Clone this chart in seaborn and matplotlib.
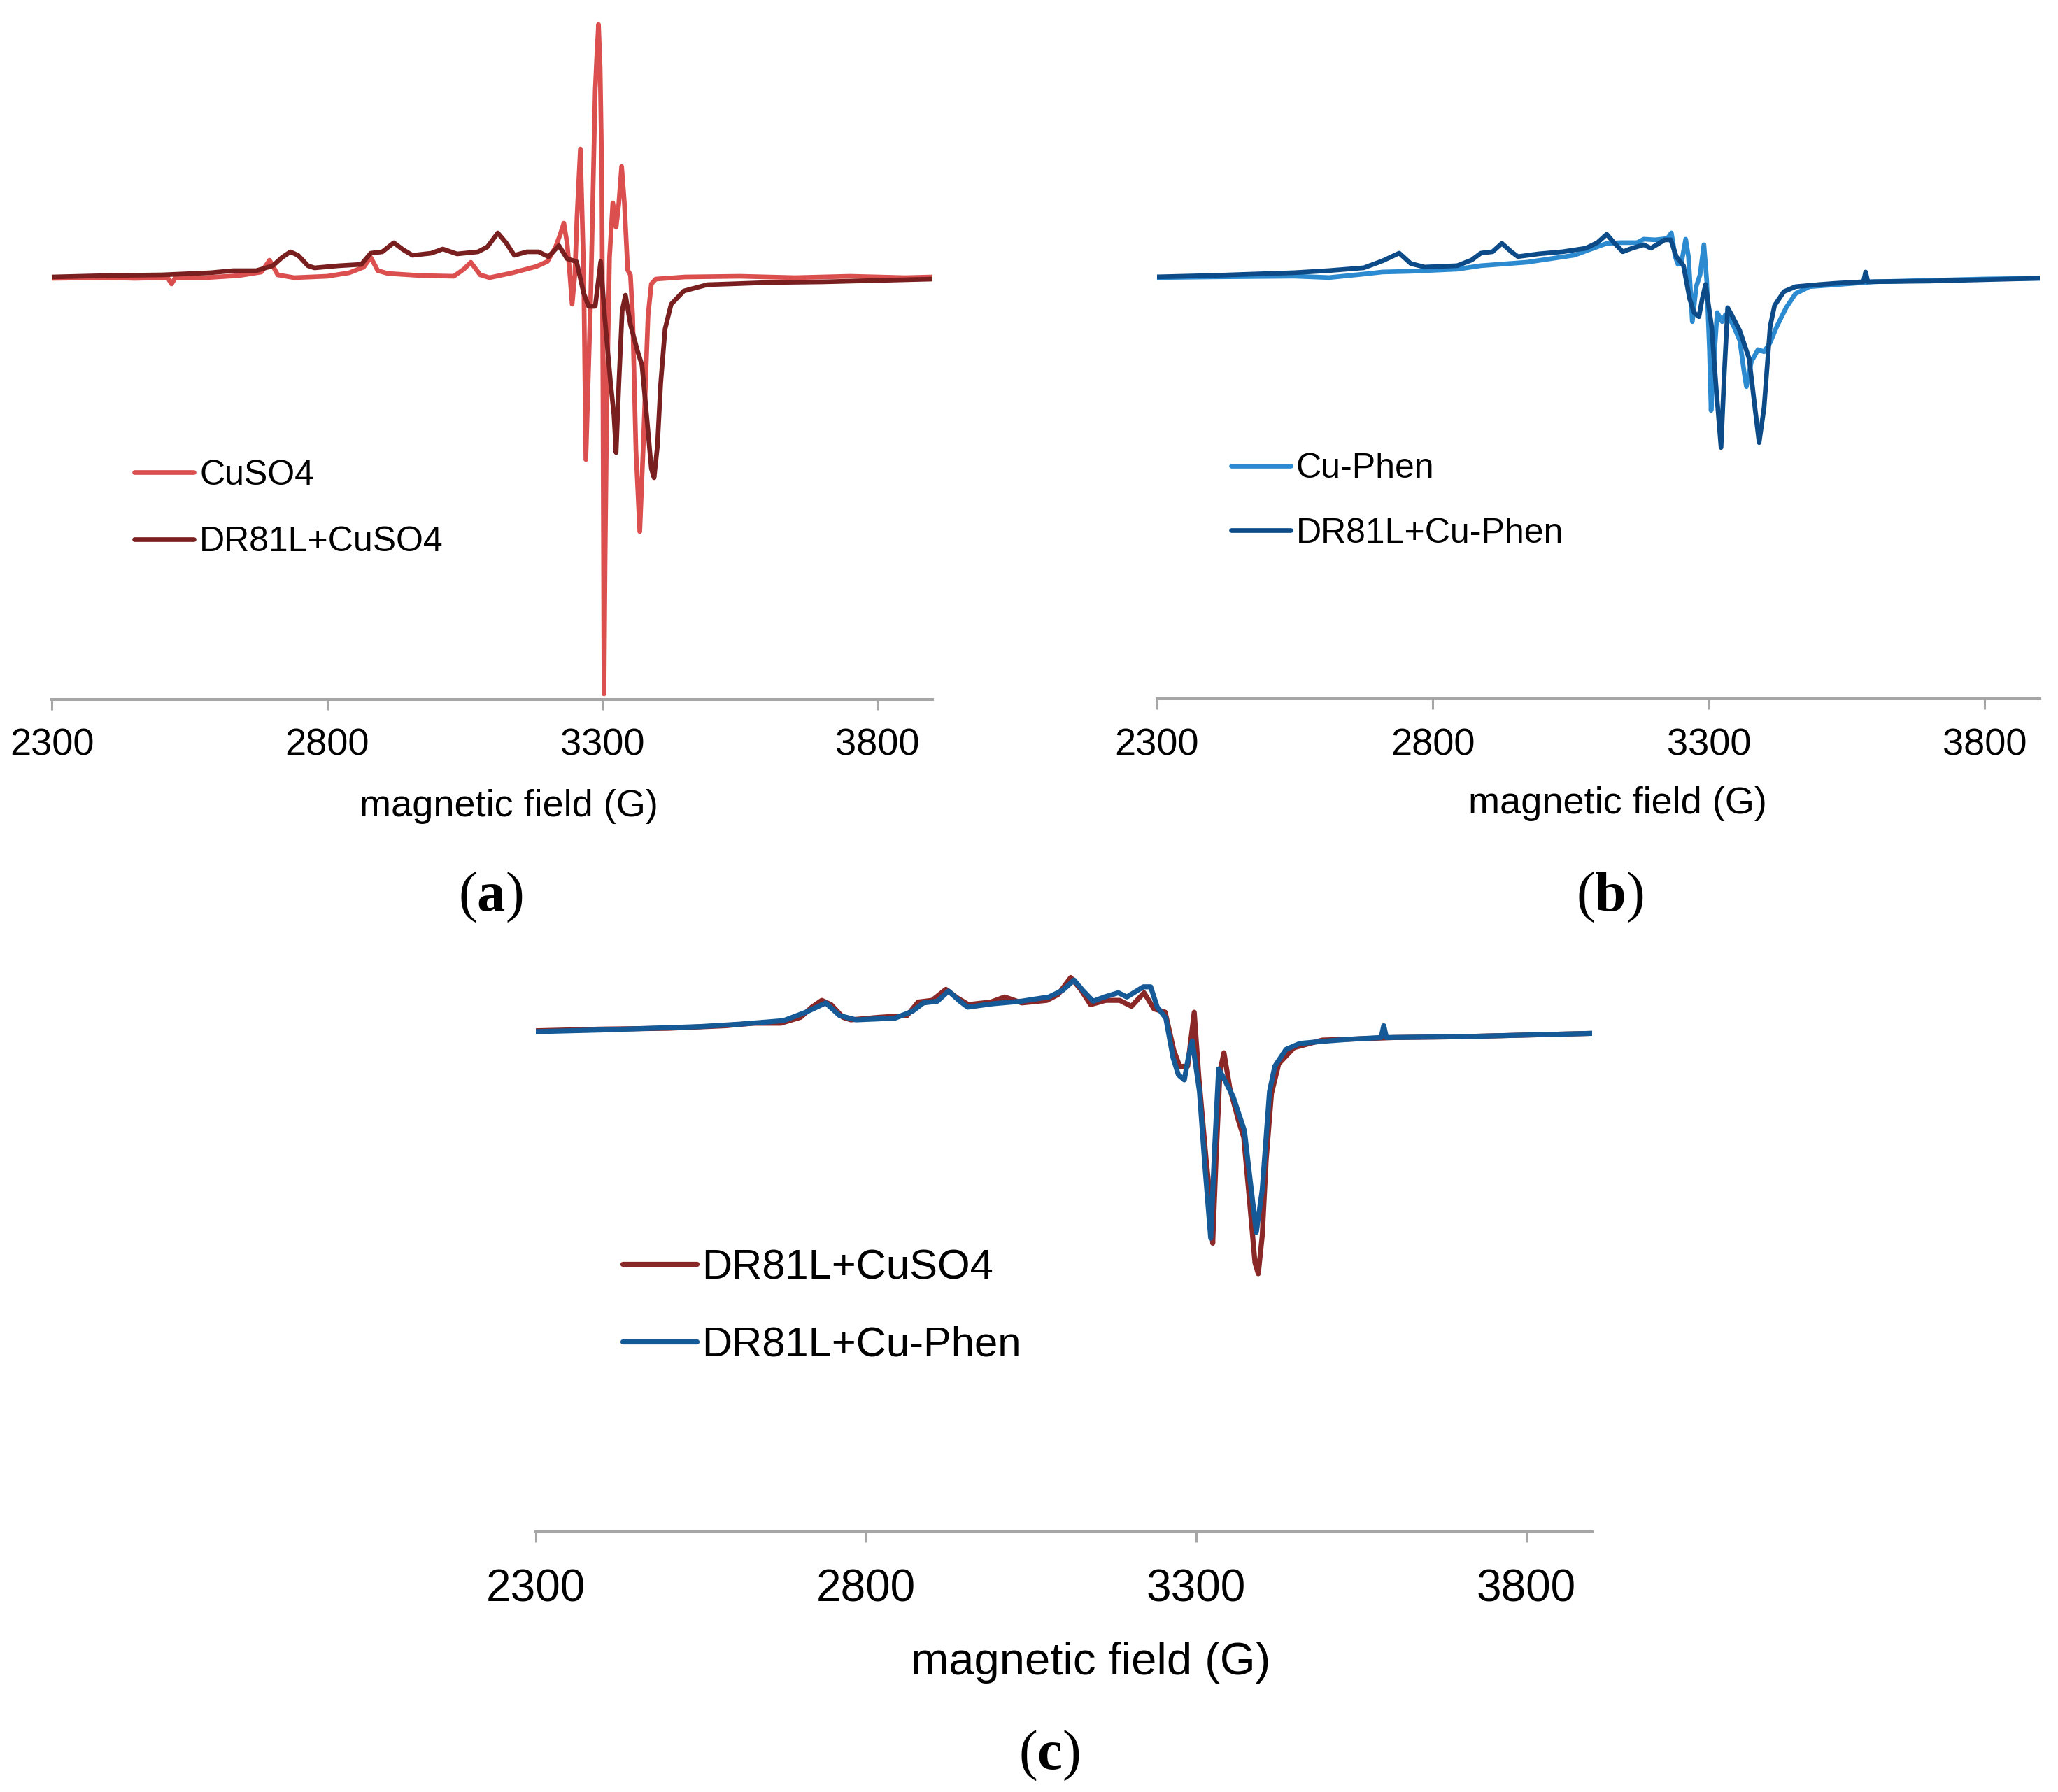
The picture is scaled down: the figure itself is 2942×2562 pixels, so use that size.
import numpy as np
import pandas as pd
import matplotlib
matplotlib.use("Agg")
import matplotlib.pyplot as plt
import seaborn as sns

# EPR spectra (field in G, intensity in arbitrary units)
cuso4_field = [2300, 2400, 2450, 2510, 2517, 2524, 2580, 2640, 2680, 2690, 2695, 2701, 2710, 2740,
               2800, 2840, 2866, 2879, 2892, 2910, 2970, 3030, 3048, 3061, 3078, 3095, 3137, 3180,
               3200, 3215, 3223, 3230, 3236, 3241, 3245, 3250, 3254, 3260, 3266, 3270, 3279, 3287,
               3290, 3293, 3296, 3299, 3301, 3303, 3305, 3308, 3313, 3319, 3325, 3330, 3335, 3340,
               3346, 3351, 3355, 3361, 3368, 3374, 3383, 3389, 3397, 3450, 3550, 3650, 3750, 3850, 3900]
cuso4_signal = [0, 1, 0, 1, -8, 1, 1, 4, 9, 20, 26, 18, 5, 1,
                3, 8, 16, 30, 11, 7, 4, 3, 13, 23, 5, 1, 8, 17,
                24, 45, 62, 79, 50, 5, -37, 5, 90, 185, 11, -259, -21, 269,
                320, 363, 300, 150, -150, -594, -400, -182, 30, 108, 73, 108, 160, 108,
                12, 5, -53, -246, -362, -246, -53, -8, -1, 2, 3, 1, 3, 1, 2]

dr_cuso4_field = [2300, 2400, 2500, 2587, 2629, 2671, 2701, 2718, 2733, 2747, 2765, 2777, 2820, 2862,
                  2879, 2900, 2921, 2938, 2955, 2989, 3010, 3036, 3074, 3091, 3110, 3125, 3140, 3163,
                  3184, 3202, 3221, 3236, 3253, 3266, 3275, 3287, 3297, 3304, 3315, 3321, 3325, 3330,
                  3336, 3342, 3351, 3364, 3372, 3381, 3389, 3394, 3400, 3406, 3414, 3425, 3448, 3491,
                  3530, 3600, 3700, 3800, 3900]
dr_cuso4_signal = [2, 4, 5, 8, 11, 11, 18, 30, 38, 33, 18, 15, 18, 20,
                   36, 38, 51, 41, 33, 36, 42, 35, 38, 45, 65, 51, 33, 38,
                   38, 31, 47, 28, 24, -21, -40, -40, 24, -53, -150, -195, -249, -150,
                   -46, -24, -66, -104, -124, -201, -272, -285, -240, -150, -72, -37, -18, -9,
                   -8, -6, -5, -3, -1]

cuphen_field = [2300, 2400, 2549, 2612, 2675, 2709, 2760, 2844, 2887, 2971, 3056, 3115, 3140, 3170,
                3182, 3203, 3225, 3232, 3239, 3244, 3250, 3258, 3263, 3270, 3277, 3284, 3291, 3296,
                3301, 3304, 3309, 3315, 3324, 3330, 3343, 3356, 3364, 3368, 3377, 3389, 3400, 3411,
                3423, 3440, 3457, 3482, 3533, 3600, 3700, 3800, 3900]
cuphen_signal = [0, 1, 2, 0, 5, 8, 9, 12, 17, 22, 32, 49, 50, 50,
                 55, 54, 56, 64, 30, 19, 20, 55, 30, -63, -13, 4, 47, -3,
                 -103, -190, -120, -50, -63, -53, -66, -90, -136, -156, -120, -103, -106, -93,
                 -70, -43, -23, -13, -10, -6, -4, -2, -1]

dr_cuphen_field = [2300, 2400, 2549, 2612, 2675, 2709, 2739, 2760, 2785, 2844, 2870, 2887, 2908, 2925,
                   2942, 2954, 2992, 3035, 3077, 3098, 3115, 3128, 3144, 3161, 3182, 3195, 3220, 3231,
                   3241, 3254, 3265, 3273, 3282, 3288, 3294, 3305, 3313, 3322, 3328, 3334, 3341, 3356,
                   3373, 3381, 3391, 3400, 3411, 3419, 3436, 3457, 3499, 3533, 3580, 3584, 3588, 3700,
                   3800, 3900]
dr_cuphen_signal = [1, 3, 7, 10, 14, 24, 35, 20, 15, 17, 25, 35, 37, 49,
                    37, 30, 34, 37, 42, 50, 62, 50, 37, 42, 47, 42, 54, 54,
                    30, 17, -30, -50, -56, -30, -10, -70, -156, -243, -136, -43, -53, -76,
                    -116, -170, -236, -186, -70, -40, -20, -13, -10, -8, -6, 8, -6, -5,
                    -3, -1]

field_ticks = [2300, 2800, 3300, 3800]

c_cuso4 = "#DC4F4F"
c_dr_cuso4_a = "#7A1F1F"
c_dr_cuso4_c = "#8A2828"
c_cuphen = "#2C8AD0"
c_dr_cuphen_b = "#0C4B87"
c_dr_cuphen_c = "#155A96"

sns.set_style("ticks")
plt.rcParams['font.family'] = ['Liberation Sans', 'DejaVu Sans']
plt.rcParams['text.color'] = 'black'
plt.rcParams['mathtext.fontset'] = 'custom'
plt.rcParams['mathtext.bf'] = 'Liberation Serif:bold'
plt.rcParams['mathtext.rm'] = 'Liberation Serif'

fig = plt.figure(figsize=(29.42, 25.62), dpi=100)
ax_a = fig.add_axes([0.02532, 0.60968, 0.4278, 0.39032])
ax_b = fig.add_axes([0.56217, 0.6102, 0.4291, 0.3898])
ax_c = fig.add_axes([0.26037, 0.1452, 0.5134, 0.32397])


def draw(ax, series, ylim, tick_fs, lab_fs, tick_pad, lab_y, lab_x, lw):
    for fld, sig, col, lab in series:
        df = pd.DataFrame({"field": fld, "signal": sig})
        sns.lineplot(data=df, x="field", y="signal", color=col, linewidth=lw, label=lab,
                     estimator=None, sort=False, ax=ax)
    ax.set_xlim(2300, 3900)
    ax.set_ylim(*ylim)
    ax.set_xticks(field_ticks)
    ax.set_yticks([])
    ax.set_ylabel("")
    sns.despine(ax=ax, left=True, top=True, right=True)
    ax.spines["bottom"].set_color("#A6A6A6")
    ax.spines["bottom"].set_linewidth(2.9)
    ax.tick_params(axis="x", bottom=True, direction="out", length=10.8, width=2.2, color="#A6A6A6",
                   labelsize=tick_fs, pad=tick_pad, labelcolor="black")
    ax.set_xlabel("magnetic field (G)", fontsize=lab_fs, color="black")
    ax.xaxis.set_label_coords(lab_x, lab_y)
    ax.patch.set_alpha(0)


draw(ax_a, [(cuso4_field, cuso4_signal, c_cuso4, "CuSO4"),
            (dr_cuso4_field, dr_cuso4_signal, c_dr_cuso4_a, "DR81L+CuSO4")],
     (-602, 398), 39, 39, 18.5, -0.1285, 0.519, 4.8)
draw(ax_b, [(cuphen_field, cuphen_signal, c_cuphen, "Cu-Phen"),
            (dr_cuphen_field, dr_cuphen_signal, c_dr_cuphen_b, "DR81L+Cu-Phen")],
     (-602, 397), 39, 39, 19.5, -0.126, 0.5215, 4.8)
draw(ax_c, [(dr_cuso4_field, dr_cuso4_signal, c_dr_cuso4_c, "DR81L+CuSO4"),
            (dr_cuphen_field, dr_cuphen_signal, c_dr_cuphen_c, "DR81L+Cu-Phen")],
     (-590, 96), 46, 47, 27, -0.189, 0.525, 5.2)

ax_a.legend(loc="center left", bbox_to_anchor=(0.0934, 0.2725), frameon=False, fontsize=36,
            borderpad=0, borderaxespad=0, handlelength=1.7, handletextpad=0.16, labelspacing=0.99)
ax_b.legend(loc="center left", bbox_to_anchor=(0.084, 0.2823), frameon=False, fontsize=36,
            borderpad=0, borderaxespad=0, handlelength=1.7, handletextpad=0.16, labelspacing=0.93)
ax_c.legend(loc="center left", bbox_to_anchor=(0.0821, 0.388), frameon=False, fontsize=43,
            borderpad=0, borderaxespad=0, handlelength=1.78, handletextpad=0.12, labelspacing=0.93)

for x, y, t in [(0.2383, 0.4992, "a"), (0.7821, 0.4992, "b"), (0.5099, 0.0203, "c")]:
    fig.text(x, y, "(" + r"$\mathbf{" + t + "}$" + ")", ha="center", va="center", fontsize=58,
             family="Liberation Serif")

fig.savefig("out.png", dpi=100, facecolor="white")
